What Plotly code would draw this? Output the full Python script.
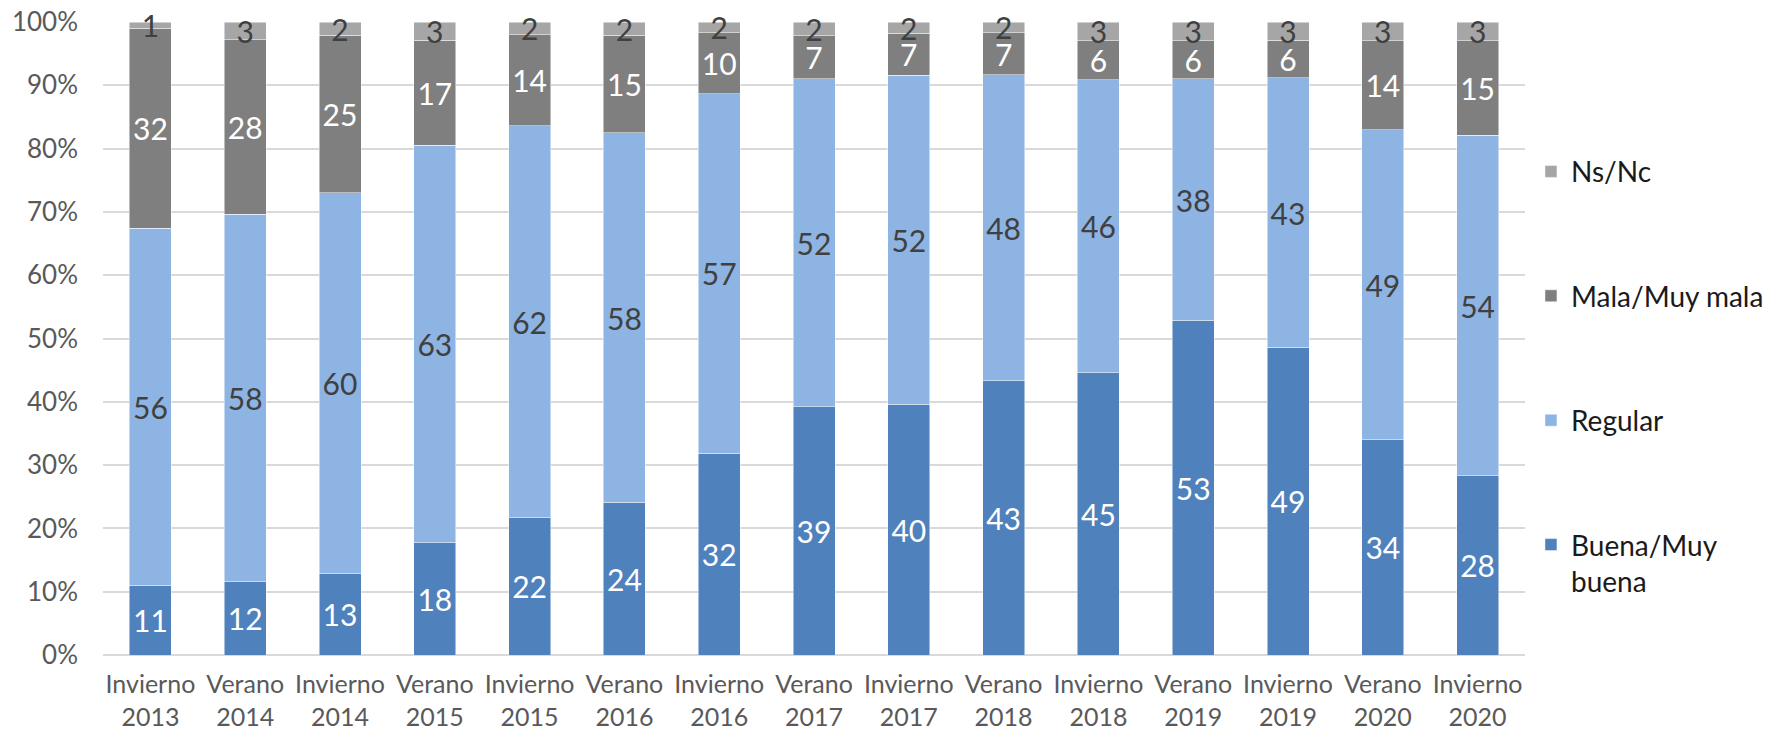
import plotly.graph_objects as go

categories = ["Invierno<br>2013", "Verano<br>2014", "Invierno<br>2014", "Verano<br>2015",
              "Invierno<br>2015", "Verano<br>2016", "Invierno<br>2016", "Verano<br>2017",
              "Invierno<br>2017", "Verano<br>2018", "Invierno<br>2018", "Verano<br>2019",
              "Invierno<br>2019", "Verano<br>2020", "Invierno<br>2020"]

buena = [11.0, 11.6, 12.8, 17.7, 21.7, 24.1, 31.9, 39.2, 39.6, 43.3, 44.6, 52.9, 48.6, 34.0, 28.3]
regular = [56.4, 58.0, 60.2, 62.8, 61.9, 58.4, 56.8, 51.8, 52.0, 48.4, 46.3, 38.1, 42.6, 49.0, 53.8]
mala = [31.6, 27.6, 24.9, 16.6, 14.4, 15.4, 9.6, 6.8, 6.6, 6.6, 6.1, 6.0, 5.9, 14.0, 14.9]
nsnc = [1.0, 2.8, 2.1, 2.9, 2.0, 2.1, 1.7, 2.2, 1.8, 1.7, 3.0, 3.0, 2.9, 3.0, 3.0]

y_ticks = [0, 10, 20, 30, 40, 50, 60, 70, 80, 90, 100]
y_ticktext = [f"{v}%" for v in y_ticks]

series = [
    ("Buena/Muy<br>buena", buena, "#4F81BD", "#FFFFFF", 4),
    ("Regular", regular, "#8EB4E3", "#404040", 3),
    ("Mala/Muy mala", mala, "#7F7F7F", "#FFFFFF", 2),
    ("Ns/Nc", nsnc, "#A6A6A6", "#404040", 1),
]

FONT = "Lato"
fig = go.Figure()
for i, (name, vals, col, tcol, rank) in enumerate(series):
    fig.add_trace(go.Bar(
        x=categories, y=vals, name=name,
        marker=dict(color=col, line=dict(color="rgba(255,255,255,0.6)", width=0.8)),
        texttemplate="%{y:.0f}",
        textposition="inside", insidetextanchor="middle", textangle=0,
        constraintext="none",
        textfont=dict(family=FONT, size=30, color=tcol),
        cliponaxis=False, legendgroup=f"g{i}", legendrank=rank, hoverinfo="skip",
    ))

fig.update_layout(
    barmode="stack", bargap=0.557,
    width=1767, height=734,
    margin=dict(l=103, r=242, t=22, b=79, autoexpand=False),
    plot_bgcolor="white", paper_bgcolor="white",
    font=dict(family=FONT, color="#595959"),
    uniformtext=dict(mode="show", minsize=30),
    legend=dict(
        x=1.0042, xanchor="left", y=0.803, yanchor="top",
        traceorder="grouped", tracegroupgap=85,
        font=dict(family=FONT, size=28, color="#1a1a1a"),
        valign="top", itemclick=False,
    ),
    xaxis=dict(
        type="category", range=[-0.5, 14.5],
        tickfont=dict(family=FONT, size=25, color="#595959"),
        showgrid=False, showline=False, ticks="", ticklabelstandoff=12,
        automargin=False,
    ),
    yaxis=dict(
        range=[0, 100.0005], tickvals=y_ticks, ticktext=y_ticktext,
        tickfont=dict(family=FONT, size=26, color="#595959"),
        showgrid=True, gridcolor="#D9D9D9", gridwidth=1.5,
        zeroline=True, zerolinecolor="#D9D9D9", zerolinewidth=1.5,
        showline=False, ticks="", ticklabelstandoff=24,
        automargin=False,
    ),
)

fig.write_html("out.html",
               config={"displayModeBar": False},
               post_script="document.body.style.margin='0';document.body.style.overflow='hidden';")
